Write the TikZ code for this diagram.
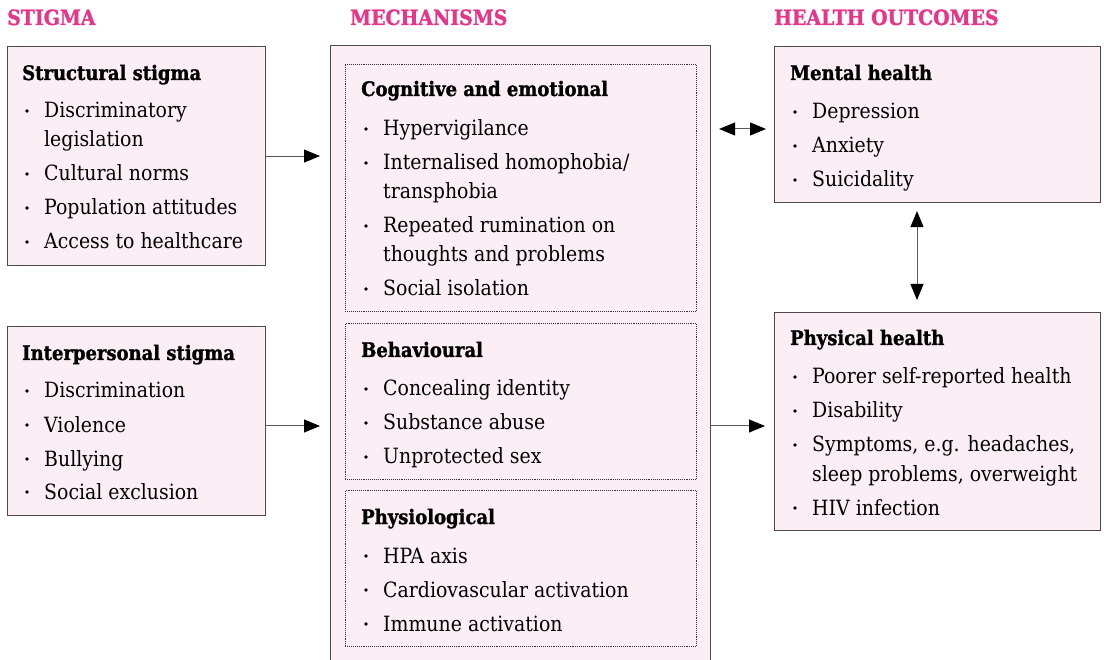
\documentclass[tikz,border=0pt]{standalone}
\usepackage{fontspec}
\setmainfont{DejaVu Serif Condensed}[BoldFont={DejaVu Serif Condensed Bold},BoldFeatures={FakeBold=1.3}]
\usetikzlibrary{arrows.meta}

\definecolor{stigpink}{HTML}{E6368A}
\definecolor{boxfill}{HTML}{FCEEF5}
\definecolor{edgegray}{HTML}{4A4A4A}

\tikzset{
  box/.style={draw=edgegray,line width=1.1pt,fill=boxfill,anchor=north west,inner sep=0pt},
  subbox/.style={draw=black!80,densely dotted,line width=0.9pt,fill=boxfill,anchor=north west,inner sep=0pt},
  colhead/.style={anchor=base west,inner sep=0pt,text=stigpink,font=\fontsize{21}{25}\selectfont\bfseries},
  boxhead/.style={anchor=base west,inner sep=0pt,font=\fontsize{20}{28}\selectfont\bfseries},
  item/.style={anchor=base west,inner sep=0pt,font=\fontsize{21}{29}\selectfont},
  tip/.tip={Triangle[length=16pt,width=13pt,color=black]},
  arr/.style={draw=black!65,line width=1pt,-tip},
  darr/.style={draw=black!65,line width=1pt,tip-tip}
}

\begin{document}
\begin{tikzpicture}[x=1pt,y=-1pt]
        \useasboundingbox (0,0) rectangle (1104,660);
        \clip (0,0) rectangle (1104,660);

        % column heads
        \node[colhead] (hstigma) at (7,25) {STIGMA};
        \node[colhead] (hmech) at (350,25) {MECHANISMS};
        \node[colhead] (hout) at (774,25) {HEALTH OUTCOMES};

        % boxes
        \node[box,minimum width=258pt,minimum height=219pt] (structural) at (7,46) {};
        \node[box,minimum width=258pt,minimum height=189pt] (interp) at (7,326) {};
        \node[box,minimum width=380pt,minimum height=640pt] (mech) at (330,45) {};
        \node[subbox,minimum width=351pt,minimum height=247pt] (cogn) at (345,64) {};
        \node[subbox,minimum width=351pt,minimum height=156pt] (behav) at (345,323) {};
        \node[subbox,minimum width=351pt,minimum height=156pt] (physio) at (345,490) {};
        \node[box,minimum width=326pt,minimum height=156pt] (mental) at (774,46) {};
        \node[box,minimum width=326pt,minimum height=218pt] (physical) at (774,312) {};

        % structural stigma
        \node[boxhead] (t1) at (22,80) {Structural stigma};
        \node[item] (s1) at (44,118) {Discriminatory};
        \node[item] (s1b) at (44,147) {legislation};
        \node[item] (s2) at (44,181) {Cultural norms};
        \node[item] (s3) at (44,215) {Population attitudes};
        \node[item] (s4) at (44,249) {Access to healthcare};
        \foreach \y in {118,181,215,249} \fill (27,\y-7) circle (1.8);

        % interpersonal stigma
        \node[boxhead] (t2) at (22,360) {Interpersonal stigma};
        \node[item] (p1) at (44,398) {Discrimination};
        \node[item] (p2) at (44,432) {Violence};
        \node[item] (p3) at (44,466) {Bullying};
        \node[item] (p4) at (44,499) {Social exclusion};
        \foreach \y in {398,432,466,499} \fill (27,\y-7) circle (1.8);

        % cognitive and emotional
        \node[boxhead] (t3) at (361,96) {Cognitive and emotional};
        \node[item] (c1) at (383,136) {Hypervigilance};
        \node[item] (c2) at (383,170) {Internalised homophobia/};
        \node[item] (c2b) at (383,199) {transphobia};
        \node[item] (c3) at (383,233) {Repeated rumination on};
        \node[item] (c3b) at (383,262) {thoughts and problems};
        \node[item] (c4) at (383,296) {Social isolation};
        \foreach \y in {136,170,233,296} \fill (366,\y-7) circle (1.8);

        % behavioural
        \node[boxhead] (t4) at (361,357) {Behavioural};
        \node[item] (b1) at (383,396) {Concealing identity};
        \node[item] (b2) at (383,430) {Substance abuse};
        \node[item] (b3) at (383,464) {Unprotected sex};
        \foreach \y in {396,430,464} \fill (366,\y-7) circle (1.8);

        % physiological
        \node[boxhead] (t5) at (361,524) {Physiological};
        \node[item] (f1) at (383,563) {HPA axis};
        \node[item] (f2) at (383,597) {Cardiovascular activation};
        \node[item] (f3) at (383,631) {Immune activation};
        \foreach \y in {563,597,631} \fill (366,\y-7) circle (1.8);

        % mental health
        \node[boxhead] (t6) at (790,80) {Mental health};
        \node[item] (m1) at (812,119) {Depression};
        \node[item] (m2) at (812,153) {Anxiety};
        \node[item] (m3) at (812,187) {Suicidality};
        \foreach \y in {119,153,187} \fill (795,\y-7) circle (1.8);

        % physical health
        \node[boxhead] (t7) at (790,345) {Physical health};
        \node[item] (h1) at (812,384) {Poorer self-reported health};
        \node[item] (h2) at (812,418) {Disability};
        \node[item] (h3) at (812,452) {Symptoms, e.g. headaches,};
        \node[item] (h3b) at (812,481) {sleep problems, overweight};
        \node[item] (h4) at (812,515) {HIV infection};
        \foreach \y in {384,418,452,515} \fill (795,\y-7) circle (1.8);

        % arrows
        \coordinate (low) at (0,426);
        \coordinate (high) at (0,129);
        \coordinate (vx) at (917,0);
        \draw[arr,shorten >=10pt] (structural.east) -- (mech.west |- structural.east);
        \draw[arr,shorten >=10pt] (interp.east |- low) -- (mech.west |- low);
        \draw[arr,shorten >=9pt] (mech.east |- low) -- (physical.west |- low);
        \draw[darr,shorten <=8pt,shorten >=8pt] (mech.east |- high) -- (mental.west |- high);
        \draw[darr,shorten <=8pt,shorten >=12pt] (mental.south -| vx) -- (physical.north -| vx);
\end{tikzpicture}
\end{document}
